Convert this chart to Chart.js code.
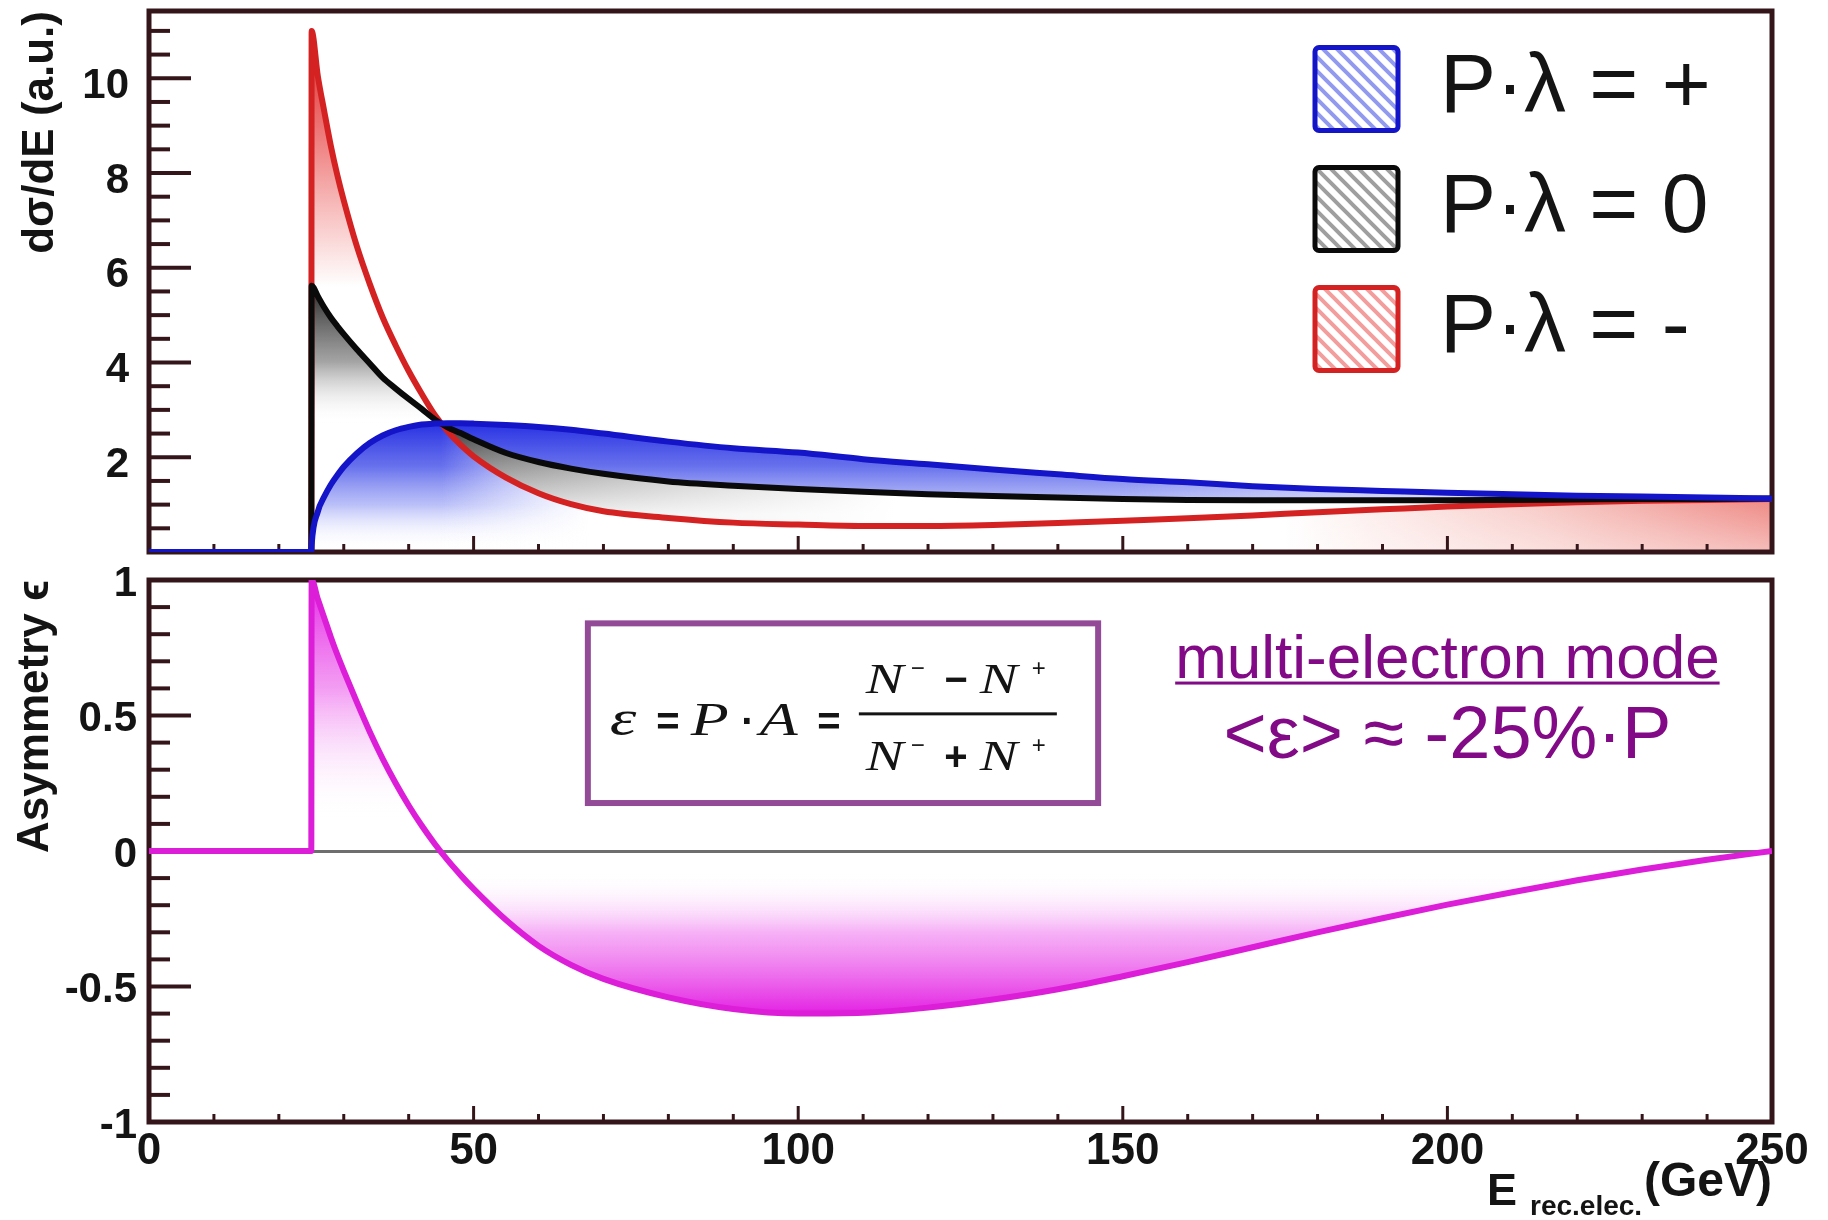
<!DOCTYPE html>
<html lang="en">
<head>
<meta charset="utf-8">
<title>Compton cross section and asymmetry</title>
<script src="https://cdn.jsdelivr.net/npm/chart.js@4.4.1/dist/chart.umd.min.js"></script>
<style>
  html, body { margin: 0; background: #fff; }
  .wrap { position: relative; width: 1828px; height: 1220px; background: #fff; }
  canvas { position: absolute; left: 0; }
  #cross { top: 0; }
  #asym { top: 540px; }
</style>
</head>
<body>
<div class="wrap">
  <canvas id="cross" width="1828" height="560"></canvas>
  <canvas id="asym" width="1828" height="680"></canvas>
</div>
<script>
// recoil electron energy (GeV), shared by all curves
const energy     = [0, 25, 25.05, 26, 27, 28, 29, 30, 32, 34, 36, 38, 40, 42, 44, 46, 48, 50, 55, 60, 65, 70, 80, 90, 100, 110, 120, 130, 140, 150, 160, 170, 180, 190, 200, 210, 220, 230, 240, 250];
// d(sigma)/dE for P*lambda = +, 0, -
const sigmaPlus  = [0, 0, 0.15, 0.85, 1.17, 1.42, 1.62, 1.80, 2.08, 2.30, 2.46, 2.57, 2.64, 2.69, 2.71, 2.72, 2.72, 2.71, 2.68, 2.64, 2.58, 2.50, 2.33, 2.19, 2.10, 1.96, 1.85, 1.74, 1.64, 1.54, 1.47, 1.39, 1.33, 1.29, 1.25, 1.22, 1.19, 1.17, 1.15, 1.13];
const sigmaZero  = [0, 0, 5.62, 5.40, 5.16, 4.95, 4.77, 4.60, 4.28, 3.98, 3.68, 3.45, 3.23, 3.02, 2.80, 2.63, 2.51, 2.38, 2.09, 1.90, 1.76, 1.65, 1.49, 1.40, 1.33, 1.27, 1.22, 1.18, 1.15, 1.12, 1.10, 1.09, 1.09, 1.09, 1.09, 1.10, 1.11, 1.12, 1.12, 1.13];
const sigmaMinus = [0, 0, 11.0, 10.05, 9.30, 8.58, 7.96, 7.42, 6.46, 5.66, 4.95, 4.36, 3.82, 3.34, 2.90, 2.55, 2.26, 2.02, 1.57, 1.24, 1.01, 0.86, 0.72, 0.62, 0.58, 0.55, 0.55, 0.57, 0.61, 0.66, 0.71, 0.77, 0.84, 0.90, 0.96, 1.01, 1.05, 1.08, 1.10, 1.12];
// asymmetry epsilon
const asymmetry  = [0, 0, 1.00, 0.93, 0.86, 0.79, 0.725, 0.665, 0.55, 0.44, 0.34, 0.25, 0.168, 0.094, 0.027, -0.034, -0.089, -0.14, -0.255, -0.35, -0.42, -0.472, -0.54, -0.583, -0.60, -0.597, -0.578, -0.548, -0.51, -0.462, -0.41, -0.355, -0.30, -0.248, -0.198, -0.152, -0.108, -0.068, -0.032, 0];

const xTicks = [0, 50, 100, 150, 200, 250];
const yTopTicks = [2, 4, 6, 8, 10];
const yBottomTicks = [-1, -0.5, 0, 0.5, 1];
const seriesNames = ['P·λ = +', 'P·λ = 0', 'P·λ = -'];

const lineColors = ['#1414c8', '#0a0a0a', '#d42222'];
const hatchColors = ['rgba(110,120,235,0.75)', 'rgba(95,95,95,0.6)', 'rgba(238,115,115,0.7)'];
const SANS = '"Liberation Sans", Arial, Helvetica, "DejaVu Sans", sans-serif';
const SERIF = '"Liberation Serif", "Times New Roman", "DejaVu Serif", serif';
const INK = '#141414';
const FRAME = '#34161a';

Chart.defaults.font.family = SANS;

const points = vals => energy.map((e, i) => ({ x: e, y: vals[i] }));

// paints an offscreen layer the size of the chart and turns it into a fill pattern
function layer(chart, paint) {
  const c = document.createElement('canvas');
  c.width = chart.width;
  c.height = chart.height;
  paint(c.getContext('2d'), c.width, c.height);
  return chart.ctx.createPattern(c, 'no-repeat');
}
function stops(g, list) {
  list.forEach(([t, col]) => g.addColorStop(t, col));
  return g;
}
function hatch(chart, color) {
  const c = document.createElement('canvas');
  c.width = c.height = 14;
  const g = c.getContext('2d');
  g.fillStyle = '#fff';
  g.fillRect(0, 0, 14, 14);
  g.strokeStyle = color;
  g.lineWidth = 4;
  g.beginPath();
  g.moveTo(-2, -2); g.lineTo(16, 16);
  g.moveTo(-9, 5); g.lineTo(9, 23);
  g.moveTo(5, -9); g.lineTo(23, 9);
  g.stroke();
  return chart.ctx.createPattern(c, 'repeat');
}

const fillBuilders = {
  cross(chart) {
    const X = v => chart.scales.x.getPixelForValue(v);
    const Y = v => chart.scales.y.getPixelForValue(v);
    const vgrad = (g, v0, v1, list) => stops(g.createLinearGradient(0, Y(v0), 0, Y(v1)), list);
    const hgrad = (g, e0, e1, list) => stops(g.createLinearGradient(X(e0), 0, X(e1), 0), list);
    return {
      plus: layer(chart, (g, W, H) => {
        g.fillStyle = vgrad(g, 2.75, 0.05, [[0, 'rgba(30,40,225,0.97)'], [0.35, 'rgba(70,82,232,0.82)'], [0.65, 'rgba(130,140,242,0.55)'], [1, 'rgba(255,255,255,0)']]);
        g.fillRect(0, 0, W, H);
        g.globalCompositeOperation = 'destination-out';
        g.fillStyle = hgrad(g, 150, 240, [[0, 'rgba(0,0,0,0)'], [1, 'rgba(0,0,0,1)']]);
        g.fillRect(0, 0, W, H);
      }),
      minus: layer(chart, (g, W, H) => {
        // grey band between the P.lambda=0 and + curves left of the crossing
        g.fillStyle = vgrad(g, 5.62, 2.7, [[0, 'rgba(25,25,25,0.95)'], [0.55, 'rgba(125,125,125,0.7)'], [1, 'rgba(255,255,255,0)']]);
        g.fillRect(0, 0, W, H);
        g.fillStyle = hgrad(g, 45, 250, [[0, 'rgba(255,255,255,0)'], [0.112, 'rgba(255,255,255,1)'], [0.634, 'rgba(255,255,255,1)'], [0.829, 'rgba(247,200,196,1)'], [1, 'rgba(238,135,130,1)']]);
        g.fillRect(0, 0, W, H);
        g.fillStyle = vgrad(g, 1.15, 0, [[0, 'rgba(255,255,255,0)'], [1, 'rgba(255,255,255,0.45)']]);
        g.fillRect(X(170), 0, W, H);
      }),
      zero: layer(chart, (g, W, H) => {
        const cut = X(44.8);
        g.fillStyle = vgrad(g, 2.6, 0.8, [[0, 'rgb(70,70,70)'], [1, 'rgb(235,235,235)']]);
        g.fillRect(cut, 0, W, H);
        g.fillStyle = hgrad(g, 48, 115, [[0, 'rgba(255,255,255,0)'], [1, 'rgba(255,255,255,1)']]);
        g.fillRect(cut, 0, W, H);
        g.fillStyle = vgrad(g, 11, 5.6, [[0, 'rgb(222,40,40)'], [0.35, 'rgb(236,110,110)'], [0.7, 'rgb(248,190,190)'], [1, 'rgb(255,255,255)']]);
        g.fillRect(0, 0, cut, H);
      })
    };
  },
  asym(chart) {
    const y = chart.scales.y;
    const g = chart.ctx.createLinearGradient(0, y.getPixelForValue(1), 0, y.getPixelForValue(-0.62));
    const at = v => (1 - v) / 1.62;
    [[1, 'rgba(228,28,228,0.95)'], [0.6, 'rgba(238,115,238,0.7)'], [0.12, 'rgba(255,255,255,0)'],
     [-0.08, 'rgba(255,255,255,0)'], [-0.3, 'rgba(240,125,240,0.6)'], [-0.6, 'rgba(225,22,225,0.95)']]
      .forEach(([v, c]) => g.addColorStop(at(v), c));
    return { asym: g };
  }
};

// ROOT style frame with inward ticks, legend placement and fill layers
const rootFrame = {
  id: 'rootFrame',
  afterLayout(chart, args, o) {
    const lg = chart.legend;
    if (o.legendShift && lg) {
      const w = lg.right - lg.left, h = lg.bottom - lg.top;
      lg.left = chart.chartArea.right - o.legendShift;
      lg.right = lg.left + w;
      lg.top = chart.chartArea.top;
      lg.bottom = lg.top + h;
    }
    const build = fillBuilders[chart.canvas.id];
    if (build) chart.$fills = build(chart);
  },
  beforeDatasetsDraw(chart, args, o) {
    const { ctx, chartArea: a, scales: { x, y } } = chart;
    const each = (scale, minor, major, fn) => {
      const n0 = Math.ceil(scale.min / minor - 1e-6), n1 = Math.floor(scale.max / minor + 1e-6);
      for (let n = n0; n <= n1; n++) {
        const v = n * minor;
        if (Math.abs(v - scale.min) < 1e-6 || Math.abs(v - scale.max) < 1e-6) continue;
        fn(scale.getPixelForValue(v), Math.abs(v / major - Math.round(v / major)) < 1e-6);
      }
    };
    ctx.save();
    ctx.strokeStyle = FRAME;
    ctx.lineWidth = 4;
    each(y, o.yMinor, o.yMajor, (p, big) => {
      ctx.beginPath(); ctx.moveTo(a.left, p); ctx.lineTo(a.left + (big ? 42 : 21), p); ctx.stroke();
    });
    ctx.lineWidth = 3;
    each(x, o.xMinor, o.xMajor, (p, big) => {
      ctx.beginPath(); ctx.moveTo(p, a.bottom); ctx.lineTo(p, a.bottom - (big ? 16 : 8)); ctx.stroke();
    });
    ctx.lineWidth = 5;
    ctx.strokeRect(a.left, a.top, a.right - a.left, a.bottom - a.top);
    ctx.restore();
  }
};

// formula box, purple note and the x axis title with its subscript
const notes = {
  id: 'notes',
  afterDraw(chart) {
    const { ctx, chartArea: a, scales: { x, y } } = chart;
    ctx.save();
    const bx = x.getPixelForValue(67.6), by = y.getPixelForValue(0.84);
    ctx.strokeStyle = '#934b97';
    ctx.lineWidth = 6;
    ctx.strokeRect(bx, by, x.getPixelForValue(146.2) - bx, y.getPixelForValue(0.177) - by);

    ctx.fillStyle = INK;
    ctx.textBaseline = 'alphabetic';
    const ital = (s, dx, dy, size) => {
      ctx.save();
      ctx.translate(bx + dx, by + dy);
      ctx.scale(1.35, 1);
      ctx.font = 'italic ' + (size || 42) + 'px ' + SERIF;
      ctx.textAlign = 'left';
      ctx.fillText(s, 0, 0);
      ctx.restore();
    };
    const op = (s, dx, dy, size, weight) => {
      ctx.font = (weight || 'bold') + ' ' + size + 'px ' + SANS;
      ctx.textAlign = 'center';
      ctx.fillText(s, bx + dx, by + dy);
    };
    ital('ε', 22, 112, 50);
    op('=', 80, 112, 40);
    ital('P', 103, 112, 46);
    op('·', 160, 112, 40);
    ital('A', 172, 112, 46);
    op('=', 241, 112, 40);
    ctx.fillRect(bx + 271, by + 89, 198, 3);
    ital('N', 278, 70); op('−', 330, 53, 24, 'normal'); op('−', 368, 70, 40); ital('N', 392, 70); op('+', 451, 53, 24, 'normal');
    ital('N', 278, 147); op('−', 330, 130, 24, 'normal'); op('+', 368, 147, 40); ital('N', 392, 147); op('+', 451, 130, 24, 'normal');

    const cx = x.getPixelForValue(200);
    ctx.fillStyle = '#820a86';
    ctx.textAlign = 'center';
    ctx.font = '62px ' + SANS;
    const y1 = y.getPixelForValue(0.64);
    ctx.fillText('multi-electron mode', cx, y1);
    const w = ctx.measureText('multi-electron mode').width;
    ctx.fillRect(cx - w / 2, y1 + 4, w, 3);
    ctx.font = '74px ' + SANS;
    ctx.fillText('<ε> ≈ -25%·P', cx, y.getPixelForValue(0.345));

    const r = a.right, h = chart.height;
    ctx.fillStyle = INK;
    ctx.textAlign = 'left';
    ctx.font = 'bold 45px ' + SANS;
    ctx.fillText('E', r - 285, h - 15);
    ctx.font = 'bold 28px ' + SANS;
    ctx.fillText('rec.elec.', r - 242, h - 5);
    ctx.textAlign = 'right';
    ctx.font = 'bold 48px ' + SANS;
    ctx.fillText('(GeV)', r, h - 24);
    ctx.restore();
  }
};

const tickFont = { family: SANS, size: 42, weight: 'bold', lineHeight: 1.2 };
const curve = { pointRadius: 0, borderWidth: 6, cubicInterpolationMode: 'monotone' };
const fillOnly = { pointRadius: 0, borderWidth: 0, borderColor: 'rgba(0,0,0,0)', cubicInterpolationMode: 'monotone' };
const fillOf = key => c => (c.chart.$fills ? c.chart.$fills[key] : 'rgba(0,0,0,0)');

new Chart(document.getElementById('cross'), {
  type: 'line',
  data: {
    datasets: [
      { label: seriesNames[0], data: points(sigmaPlus), borderColor: lineColors[0], fill: false, order: 0, ...curve },
      { label: seriesNames[1], data: points(sigmaZero), borderColor: lineColors[1], fill: false, order: 1, ...curve },
      { label: seriesNames[2], data: points(sigmaMinus), borderColor: lineColors[2], fill: false, order: 2, ...curve },
      { label: 'fill 0', data: points(sigmaZero), fill: { target: 2 }, backgroundColor: fillOf('zero'), order: 10, ...fillOnly },
      { label: 'fill -', data: points(sigmaMinus), fill: 'origin', backgroundColor: fillOf('minus'), order: 11, ...fillOnly },
      { label: 'fill +', data: points(sigmaPlus), fill: 'origin', backgroundColor: fillOf('plus'), order: 12, ...fillOnly }
    ]
  },
  options: {
    responsive: false,
    animation: false,
    events: [],
    layout: { padding: { top: 11, right: 56, bottom: 0, left: 0 } },
    scales: {
      x: {
        type: 'linear', min: 0, max: 250,
        afterBuildTicks: s => { s.ticks = xTicks.map(v => ({ value: v })); },
        afterFit: s => { s.height = 8; s.paddingLeft = 0; s.paddingRight = 0; },
        ticks: { display: false },
        grid: { display: false },
        border: { display: false }
      },
      y: {
        type: 'linear', min: 0, max: 11.42,
        afterBuildTicks: s => { s.ticks = yTopTicks.map(v => ({ value: v })); },
        afterFit: s => { s.width = 149; s.paddingTop = 0; s.paddingBottom = 0; },
        ticks: { font: tickFont, color: INK, padding: 12, labelOffset: 8, autoSkip: false, callback: v => String(v) },
        grid: { display: false },
        border: { display: false },
        title: {
          display: true, text: 'dσ/dE (a.u.)', align: 'end', color: INK,
          font: { family: SANS, size: 44, weight: 'bold', lineHeight: 1 },
          padding: { top: 19, bottom: 0 }
        }
      }
    },
    plugins: {
      filler: { drawTime: 'beforeDatasetsDraw' },
      tooltip: { enabled: false },
      legend: {
        position: 'chartArea',
        align: 'start',
        labels: {
          boxWidth: 83, boxHeight: 83, padding: 36, color: INK,
          font: { family: SANS, size: 84 },
          useBorderRadius: true, borderRadius: 4,
          generateLabels(chart) {
            return Chart.defaults.plugins.legend.labels.generateLabels(chart)
              .filter(it => it.datasetIndex < 3)
              .map(it => Object.assign(it, {
                fillStyle: hatch(chart, hatchColors[it.datasetIndex]),
                strokeStyle: lineColors[it.datasetIndex],
                lineWidth: 5
              }));
          }
        }
      },
      rootFrame: { yMinor: 0.5, yMajor: 2, xMinor: 10, xMajor: 50, legendShift: 493 }
    }
  },
  plugins: [rootFrame]
});

new Chart(document.getElementById('asym'), {
  type: 'line',
  data: {
    datasets: [{
      label: 'Asymmetry',
      data: points(asymmetry),
      borderColor: '#dc1ed8',
      fill: 'origin',
      backgroundColor: fillOf('asym'),
      ...curve
    }]
  },
  options: {
    responsive: false,
    animation: false,
    events: [],
    layout: { padding: { top: 40, right: 56, bottom: 0, left: 0 } },
    scales: {
      x: {
        type: 'linear', min: 0, max: 250,
        afterBuildTicks: s => { s.ticks = xTicks.map(v => ({ value: v })); },
        afterFit: s => { s.height = 98; s.paddingLeft = 0; s.paddingRight = 0; },
        ticks: { font: { family: SANS, size: 44, weight: 'bold', lineHeight: 1 }, color: INK, padding: 0, maxRotation: 0, autoSkip: false, callback: v => String(v) },
        grid: { display: false },
        border: { display: false }
      },
      y: {
        type: 'linear', min: -1, max: 1,
        afterBuildTicks: s => { s.ticks = yBottomTicks.map(v => ({ value: v })); },
        afterFit: s => { s.width = 149; s.paddingTop = 0; s.paddingBottom = 0; },
        ticks: { font: tickFont, color: INK, padding: 12, labelOffset: 4, autoSkip: false, callback: v => String(v) },
        grid: {
          drawTicks: false,
          lineWidth: 3,
          color: c => (c.tick && c.tick.value === 0 ? '#6e6e6e' : 'rgba(0,0,0,0)')
        },
        border: { display: false },
        title: {
          display: true, text: 'Asymmetry ϵ', align: 'end', color: INK,
          font: { family: SANS, size: 44, weight: 'bold', lineHeight: 1 },
          padding: { top: 14, bottom: 0 }
        }
      }
    },
    plugins: {
      filler: { drawTime: 'beforeDatasetsDraw' },
      tooltip: { enabled: false },
      legend: { display: false },
      rootFrame: { yMinor: 0.1, yMajor: 0.5, xMinor: 10, xMajor: 50 }
    }
  },
  plugins: [rootFrame, notes]
});
</script>
</body>
</html>
